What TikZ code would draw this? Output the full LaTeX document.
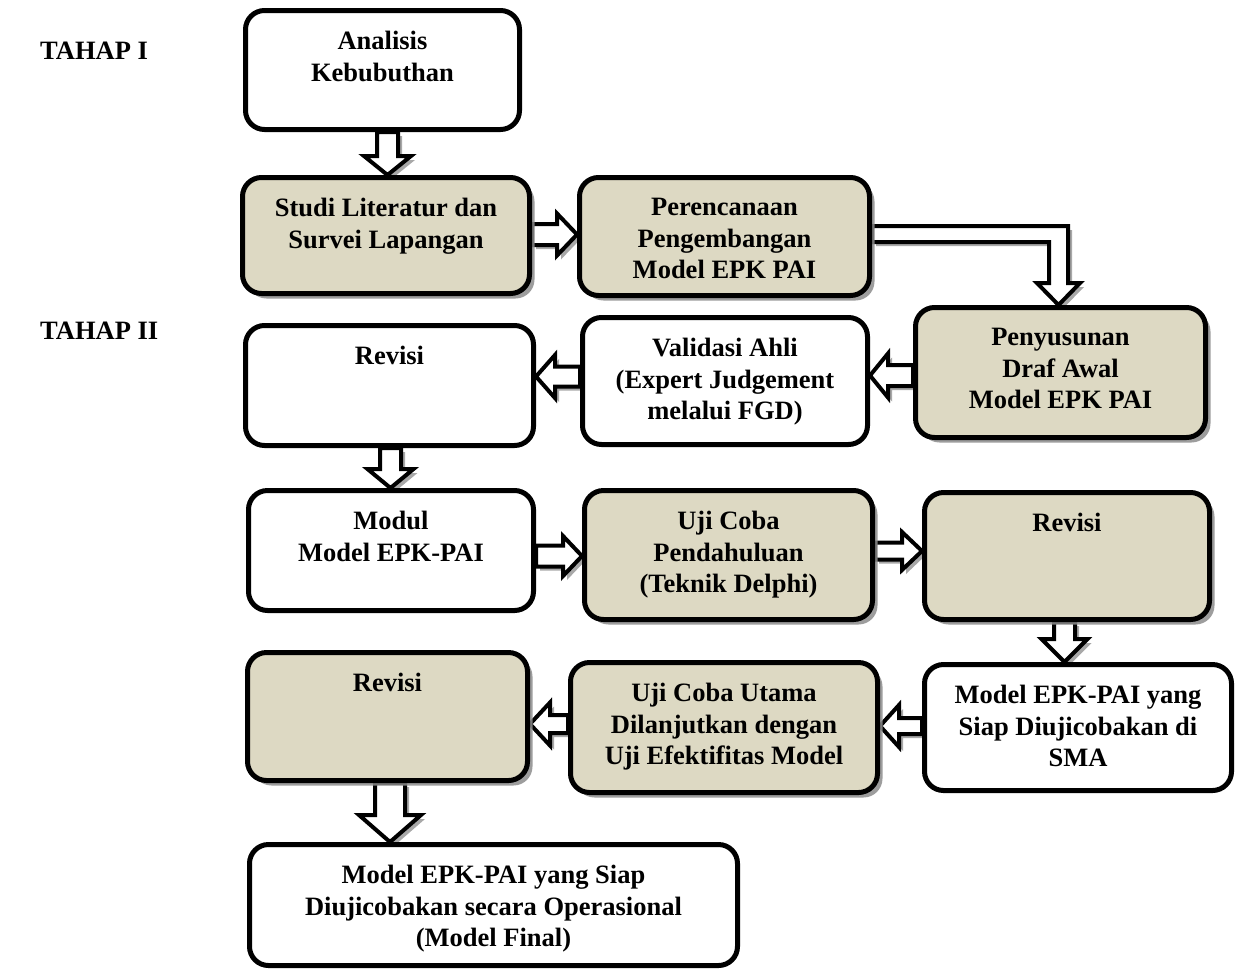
\documentclass[tikz,border=0pt]{standalone}
\usepackage{fontspec}
\setmainfont{Liberation Serif}
\usetikzlibrary{shadows,calc}
\definecolor{boxtan}{HTML}{DDD9C3}
\pgfdeclarelayer{bg}
\pgfsetlayers{bg,main}
\tikzset{
  box/.style={draw=black, line width=5pt, rounded corners=19pt, fill=white, inner sep=0pt},
  tanbox/.style={box, fill=boxtan, drop shadow={shadow xshift=5pt, shadow yshift=-5pt, fill=black!45, opacity=0.85}},
  txt/.style={inner sep=0pt, align=center, font=\fontsize{26.5}{31.5}\selectfont\bfseries},
  stage/.style={inner sep=0pt, anchor=base west, font=\fontsize{26.5}{31.5}\selectfont\bfseries},
  barrow/.style={draw=black, line width=4pt, fill=white, line join=miter, miter limit=3,
    drop shadow={shadow xshift=4pt, shadow yshift=-4pt, fill=black!40, opacity=0.85}},
}
% box: name, x1, y1, x2, y2, style, text
\newcommand\bx[7]{%
  \node[#6, minimum width={(#4-#2-5)*1pt}, minimum height={(#5-#3-5)*1pt}] (#1) at ({(#2+#4)/2},{(#3+#5)/2}) {};
  \node[txt, anchor=north] (#1t) at ($(#1.north)+(0,23)$) {#7};
}
% down arrow: from, to, xcenter, shaft half, head half, head length
\newcommand\darr[6]{%
  \draw[barrow] let \p1=(#1.south), \p2=(#2.north) in
    (#3pt-#4pt,\y1) -- (#3pt-#4pt,\y2+#6pt) -- (#3pt-#5pt,\y2+#6pt) -- (#3pt,\y2)
    -- (#3pt+#5pt,\y2+#6pt) -- (#3pt+#4pt,\y2+#6pt) -- (#3pt+#4pt,\y1) -- cycle;
}
% right arrow: from, to, ycenter, shaft half, head half, head length
\newcommand\rarr[6]{%
  \draw[barrow] let \p1=(#1.east), \p2=(#2.west) in
    (\x1,-#3pt+#4pt) -- (\x2-#6pt,-#3pt+#4pt) -- (\x2-#6pt,-#3pt+#5pt) -- (\x2,-#3pt)
    -- (\x2-#6pt,-#3pt-#5pt) -- (\x2-#6pt,-#3pt-#4pt) -- (\x1,-#3pt-#4pt) -- cycle;
}
% left arrow
\newcommand\larr[6]{%
  \draw[barrow] let \p1=(#1.west), \p2=(#2.east) in
    (\x1,-#3pt+#4pt) -- (\x2+#6pt,-#3pt+#4pt) -- (\x2+#6pt,-#3pt+#5pt) -- (\x2,-#3pt)
    -- (\x2+#6pt,-#3pt-#5pt) -- (\x2+#6pt,-#3pt-#4pt) -- (\x1,-#3pt-#4pt) -- cycle;
}
\begin{document}
\begin{tikzpicture}[x=1pt,y=-1pt]
\useasboundingbox (0,0) rectangle (1239,970);

\node[stage] (t1) at (40,59) {TAHAP I};
\node[stage] (t2) at (40,339) {TAHAP II};

\bx{n1}{243}{8}{522}{132}{box}{Analisis\\Kebubuthan}
\bx{n2}{240}{175}{532}{296}{tanbox}{Studi Literatur dan\\Survei Lapangan}
\bx{n3}{577}{175}{872}{298}{tanbox}{Perencanaan\\Pengembangan\\Model EPK PAI}
\bx{n4}{913}{305}{1208}{440}{tanbox}{Penyusunan\\Draf Awal\\Model EPK PAI}
\bx{n5}{580}{315}{870}{447}{box}{Validasi Ahli\\(Expert Judgement\\melalui FGD)}
\bx{n6}{243}{323}{536}{448}{box}{Revisi}
\bx{n7}{246}{488}{536}{613}{box}{Modul\\Model EPK-PAI}
\bx{n8}{582}{488}{875}{622}{tanbox}{Uji Coba\\Pendahuluan\\(Teknik Delphi)}
\bx{n9}{922}{490}{1212}{622}{tanbox}{Revisi}
\bx{n10}{922}{662}{1234}{793}{box}{Model EPK-PAI yang\\Siap Diujicobakan di\\SMA}
\bx{n11}{568}{660}{880}{795}{tanbox}{Uji Coba Utama\\Dilanjutkan dengan\\Uji Efektifitas Model}
\bx{n12}{245}{650}{530}{783}{tanbox}{Revisi}
\bx{n13}{247}{842}{740}{968}{box}{Model EPK-PAI yang Siap\\Diujicobakan secara Operasional\\(Model Final)}

\begin{pgfonlayer}{bg}
\darr{n1}{n2}{387.5}{10.5}{23.5}{19}
\rarr{n2}{n3}{234.5}{10.5}{21}{20}
\draw[barrow] let \p1=(n3.east), \p2=(n4.north) in
  (\x1,-226pt) -- (1068pt,-226pt) -- (1068pt,\y2+22pt) -- (1080pt,\y2+22pt) -- (1058.5pt,\y2)
  -- (1037pt,\y2+22pt) -- (1049pt,\y2+22pt) -- (1049pt,-242pt) -- (\x1,-242pt) -- cycle;
\larr{n4}{n5}{375.5}{10.5}{22}{18}
\larr{n5}{n6}{376.5}{10}{21.5}{19}
\darr{n6}{n7}{390.5}{10.5}{23}{19}
\rarr{n7}{n8}{556}{10.5}{20}{19}
\rarr{n8}{n9}{551}{8.5}{19}{20}
\darr{n9}{n10}{1064.5}{10.5}{23}{23}
\larr{n10}{n11}{726}{8}{21}{19}
\larr{n11}{n12}{724}{9}{21.5}{20}
\darr{n12}{n13}{390}{15}{31}{27}
\end{pgfonlayer}
\end{tikzpicture}
\end{document}
